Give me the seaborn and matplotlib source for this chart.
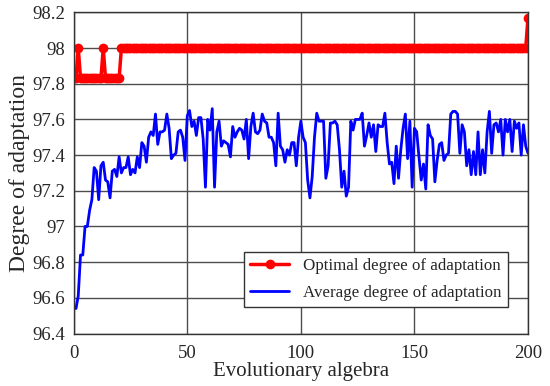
import matplotlib
matplotlib.use('Agg')
import matplotlib.pyplot as plt
import seaborn as sns
import pandas as pd

generations = list(range(1, 201))

optimal = [
    97.83, 98.0, 97.83, 97.83, 97.83, 97.83, 97.83, 97.83, 97.83, 97.83,
    97.83, 97.83, 98.0, 97.83, 97.83, 97.83, 97.83, 97.83, 97.83, 97.83,
    98.0, 98.0, 98.0, 98.0, 98.0, 98.0, 98.0, 98.0, 98.0, 98.0,
    98.0, 98.0, 98.0, 98.0, 98.0, 98.0, 98.0, 98.0, 98.0, 98.0,
    98.0, 98.0, 98.0, 98.0, 98.0, 98.0, 98.0, 98.0, 98.0, 98.0,
    98.0, 98.0, 98.0, 98.0, 98.0, 98.0, 98.0, 98.0, 98.0, 98.0,
    98.0, 98.0, 98.0, 98.0, 98.0, 98.0, 98.0, 98.0, 98.0, 98.0,
    98.0, 98.0, 98.0, 98.0, 98.0, 98.0, 98.0, 98.0, 98.0, 98.0,
    98.0, 98.0, 98.0, 98.0, 98.0, 98.0, 98.0, 98.0, 98.0, 98.0,
    98.0, 98.0, 98.0, 98.0, 98.0, 98.0, 98.0, 98.0, 98.0, 98.0,
    98.0, 98.0, 98.0, 98.0, 98.0, 98.0, 98.0, 98.0, 98.0, 98.0,
    98.0, 98.0, 98.0, 98.0, 98.0, 98.0, 98.0, 98.0, 98.0, 98.0,
    98.0, 98.0, 98.0, 98.0, 98.0, 98.0, 98.0, 98.0, 98.0, 98.0,
    98.0, 98.0, 98.0, 98.0, 98.0, 98.0, 98.0, 98.0, 98.0, 98.0,
    98.0, 98.0, 98.0, 98.0, 98.0, 98.0, 98.0, 98.0, 98.0, 98.0,
    98.0, 98.0, 98.0, 98.0, 98.0, 98.0, 98.0, 98.0, 98.0, 98.0,
    98.0, 98.0, 98.0, 98.0, 98.0, 98.0, 98.0, 98.0, 98.0, 98.0,
    98.0, 98.0, 98.0, 98.0, 98.0, 98.0, 98.0, 98.0, 98.0, 98.0,
    98.0, 98.0, 98.0, 98.0, 98.0, 98.0, 98.0, 98.0, 98.0, 98.0,
    98.0, 98.0, 98.0, 98.0, 98.0, 98.0, 98.0, 98.0, 98.0, 98.17,
]

average = [
    96.54, 96.61, 96.84, 96.84, 97.00, 97.00, 97.09, 97.15, 97.33, 97.31,
    97.15, 97.34, 97.36, 97.26, 97.25, 97.16, 97.31, 97.32, 97.28, 97.39,
    97.30, 97.33, 97.33, 97.39, 97.29, 97.32, 97.30, 97.39, 97.33, 97.47,
    97.45, 97.36, 97.50, 97.53, 97.51, 97.63, 97.46, 97.53, 97.53, 97.54,
    97.63, 97.55, 97.38, 97.40, 97.41, 97.53, 97.54, 97.50, 97.37, 97.62,
    97.65, 97.56, 97.59, 97.51, 97.61, 97.61, 97.49, 97.22, 97.60, 97.54,
    97.66, 97.22, 97.53, 97.59, 97.45, 97.48, 97.47, 97.46, 97.39, 97.56,
    97.50, 97.53, 97.55, 97.54, 97.49, 97.60, 97.38, 97.56, 97.635, 97.53,
    97.52, 97.54, 97.63, 97.59, 97.58, 97.50, 97.50, 97.47, 97.34, 97.635,
    97.45, 97.43, 97.36, 97.43, 97.40, 97.47, 97.47, 97.34, 97.50, 97.59,
    97.50, 97.47, 97.26, 97.16, 97.28, 97.50, 97.635, 97.59, 97.59, 97.59,
    97.27, 97.34, 97.58, 97.58, 97.59, 97.57, 97.43, 97.22, 97.31, 97.17,
    97.22, 97.59, 97.54, 97.60, 97.60, 97.60, 97.635, 97.45, 97.51, 97.58,
    97.50, 97.57, 97.42, 97.57, 97.56, 97.56, 97.635, 97.47, 97.35, 97.36,
    97.24, 97.45, 97.27, 97.43, 97.55, 97.63, 97.38, 97.59, 97.22, 97.55,
    97.53, 97.39, 97.26, 97.35, 97.21, 97.57, 97.51, 97.49, 97.25, 97.37,
    97.46, 97.47, 97.37, 97.40, 97.41, 97.63, 97.645, 97.645, 97.63, 97.41,
    97.57, 97.53, 97.34, 97.43, 97.29, 97.42, 97.29, 97.53, 97.29, 97.43,
    97.30, 97.53, 97.645, 97.41, 97.57, 97.58, 97.53, 97.60, 97.40, 97.60,
    97.53, 97.60, 97.42, 97.59, 97.55, 97.58, 97.40, 97.57, 97.45, 97.41,
]

x_ticks = [0, 50, 100, 150, 200]
y_ticks = [96.4, 96.6, 96.8, 97.0, 97.2, 97.4, 97.6, 97.8, 98.0, 98.2]
y_tick_labels = ['96.4', '96.6', '96.8', '97', '97.2', '97.4', '97.6', '97.8', '98', '98.2']

df = pd.DataFrame({'gen': generations, 'optimal': optimal, 'average': average})

sns.set_style('white')
plt.rcParams['font.family'] = ['Liberation Serif', 'DejaVu Serif']

fig, ax = plt.subplots(figsize=(5.5, 3.86), dpi=100)
fig.subplots_adjust(left=0.134, right=0.96, top=0.968, bottom=0.136)

sns.lineplot(data=df, x='gen', y='optimal', ax=ax, color='#ff0000', lw=2.5,
             marker='o', markersize=7, markeredgewidth=0,
             label='Optimal degree of adaptation')
sns.lineplot(data=df, x='gen', y='average', ax=ax, color='#0000ff', lw=2,
             label='Average degree of adaptation')

ax.set_xlim(0, 200)
ax.set_ylim(96.4, 98.2)
ax.set_xticks(x_ticks)
ax.set_yticks(y_ticks)
ax.set_yticklabels(y_tick_labels)
ax.grid(True, color='#4d4d4d', lw=1)
ax.tick_params(direction='in', labelsize=13.5, length=3, color='#333333')
ax.tick_params(axis='x', pad=8)
ax.tick_params(axis='y', pad=6)
for s in ax.spines.values():
    s.set_color('#333333')
    s.set_linewidth(1)

ax.set_xlabel('Evolutionary algebra', fontsize=15, labelpad=0)
ax.set_ylabel('Degree of adaptation', fontsize=17, labelpad=2)

leg = ax.legend(loc='lower right', bbox_to_anchor=(0.975, 0.055), fontsize=12.2,
                frameon=True, fancybox=False, edgecolor='#333333',
                handlelength=2.3, borderpad=0.4, labelspacing=0.6)
leg.get_frame().set_linewidth(1)
leg.get_frame().set_alpha(1)

plt.savefig('out.png')
plt.close()
